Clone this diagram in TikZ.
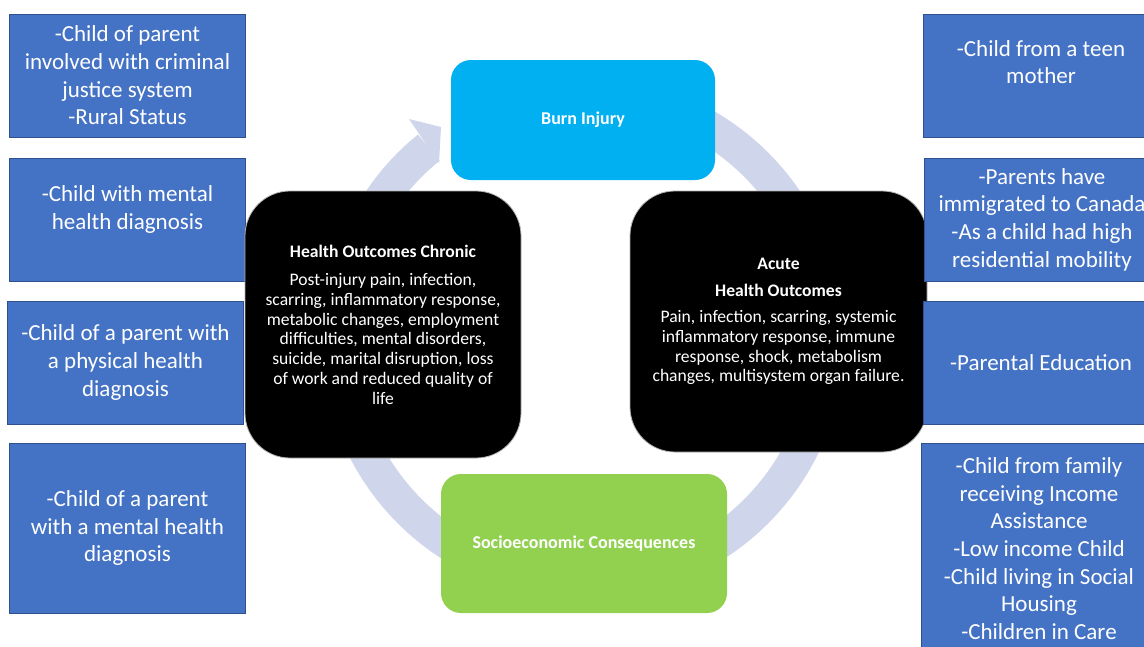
\documentclass[tikz,border=0pt]{standalone}
\usepackage{fontspec}
\setmainfont{Carlito}
\definecolor{boxblue}{HTML}{4472C4}
\definecolor{boxblueline}{HTML}{2F528F}
\definecolor{burnblue}{HTML}{00B0F0}
\definecolor{socgreen}{HTML}{92D050}
\definecolor{ringcol}{HTML}{CFD5EA}
\begin{document}
\begin{tikzpicture}[x=1pt,y=-1pt,
  riskbox/.style={draw=boxblueline, line width=0.8pt, fill=boxblue, minimum width=236pt, minimum height=123pt, inner sep=0pt},
  risktext/.style={text=white, align=center, font=\fontsize{23}{27.7}\selectfont, inner sep=0pt},
  outbox/.style={draw=gray!60, line width=0.8pt, fill=black, rounded corners=45pt, text=white, align=center, inner sep=0pt, font=\fontsize{17.6}{19.7}\selectfont},
  cyclebox/.style={rounded corners=20pt, text=white, align=center, inner sep=0pt, font=\fontsize{18}{20}\selectfont\bfseries}
]
\clip (0,0) rectangle (1144,646);
\fill[white] (0,0) rectangle (1144,646);

% circular arrow
\coordinate (ctr) at (583,338);
\draw[ringcol, line width=34pt] (ctr) ++(-90:245) arc[start angle=-90, end angle=231, radius=245];
\coordinate (hb1) at (409,119);
\coordinate (htip) at (441,127);
\coordinate (hb2) at (439,163);
\fill[ringcol] (hb1) -- (htip) -- (hb2) -- cycle;

% left risk boxes
\node[riskbox] (L1) at (127.5,75.5) {};
\node[risktext] at (L1.center) {-Child of parent\\involved with criminal\\justice system\\-Rural Status};
\node[riskbox] (L2) at (127.5,219.5) {};
\node[risktext] at ([yshift=10pt]L2.center) {-Child with mental\\health diagnosis};
\node[riskbox] (L3) at (125.5,362.5) {};
\node[risktext] at (L3.center) {-Child of a parent with\\a physical health\\diagnosis};
\node[riskbox, minimum height=170pt] (L4) at (127.5,528) {};
\node[risktext] at (L4.center) {-Child of a parent\\with a mental health\\diagnosis};

% outcome boxes
\node[outbox, minimum width=276pt, minimum height=267pt] (chronic) at (383,324.5)
  {\textbf{Health Outcomes Chronic}\\[9pt]Post-injury pain, infection,\\scarring, inflammatory response,\\metabolic changes, employment\\difficulties, mental disorders,\\suicide, marital disruption, loss\\of work and reduced quality of\\life};
\node[outbox, minimum width=297pt, minimum height=261pt] (acute) at (778.5,321.5)
  {\textbf{Acute}\\[7pt]\textbf{Health Outcomes}\\[7pt]Pain, infection, scarring, systemic\\inflammatory response, immune\\response, shock, metabolism\\changes, multisystem organ failure.};

% right risk boxes
\node[riskbox] (R1) at (1041,75.5) {};
\node[risktext] at ([yshift=13.5pt]R1.center) {-Child from a teen\\mother};
\node[riskbox] (R2) at (1042,219.5) {};
\node[risktext] at (R2.center) {-Parents have\\immigrated to Canada\\-As a child had high\\residential mobility};
\node[riskbox] (R3) at (1041,362.5) {};
\node[risktext] at (R3.center) {-Parental Education};
\node[riskbox, minimum height=211pt] (R4) at (1039,548.5) {};
\node[risktext] at (R4.center) {-Child from family\\receiving Income\\Assistance\\-Low income Child\\-Child living in Social\\Housing\\-Children in Care};

% cycle boxes
\node[cyclebox, fill=burnblue, minimum width=264pt, minimum height=120pt] (burn) at (583,120) {Burn Injury};
\node[cyclebox, fill=socgreen, minimum width=286pt, minimum height=139pt] (socio) at (584,543.5) {Socioeconomic Consequences};
\end{tikzpicture}
\end{document}
